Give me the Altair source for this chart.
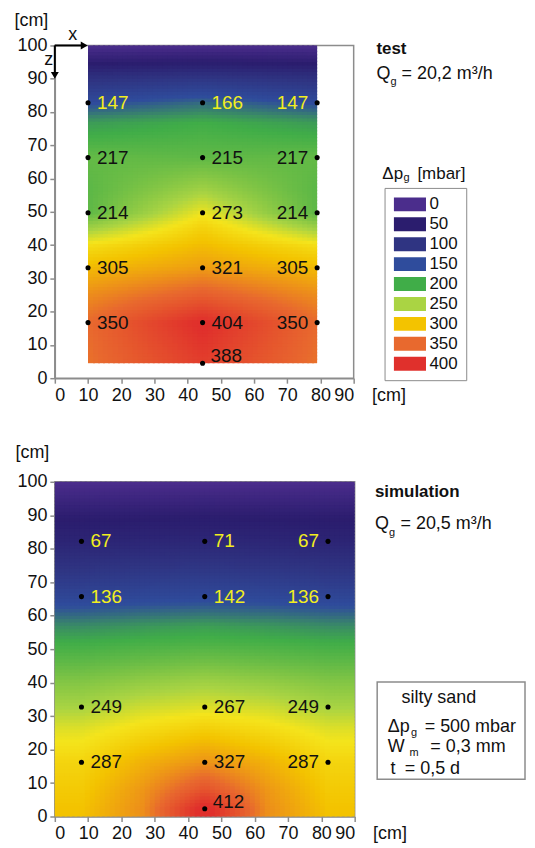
import numpy as np
import pandas as pd
import altair as alt

alt.data_transformers.disable_max_rows()

FONT = "Liberation Sans"
INK = "#111111"
FRAME = "#8c8c8c"
YELLOW = "#f2ee1e"

# ---------------- colour scale  Δp_g [mbar] ----------------
legend_values = [0, 50, 100, 150, 200, 250, 300, 350, 400]
color_domain = [0, 50, 100, 150, 200, 250, 275, 300, 350, 400]
color_range = ["#4b2d8c", "#2b1d6e", "#2f3482", "#2f4c9c", "#40ad48",
               "#aad443", "#f4e41c", "#f3c300", "#e8692e", "#e0302c"]

# ---------------- test: measured points ----------------
test_pt_x = [10, 10, 10, 10, 10, 44.5, 44.5, 44.5, 44.5, 44.5, 44.5, 79, 79, 79, 79, 79]
test_pt_y = [82.8, 66.3, 49.7, 33.2, 16.7, 82.8, 66.3, 49.7, 33.2, 16.7, 4.5, 82.8, 66.3, 49.7, 33.2, 16.7]
test_pt_val = [147, 217, 214, 305, 350, 166, 215, 273, 321, 404, 388, 147, 217, 214, 305, 350]

# test: contour field nodes
test_grid_x = [10, 44.5, 79]
test_grid_y = [100, 95, 90, 82.8, 77, 66.3, 57, 49.7, 45, 39.5, 33.2, 25, 16.7, 4.5]
test_grid_side = [0, 45, 95, 147, 190, 217, 213, 214, 245, 282, 305, 330, 350, 345]
test_grid_mid = [0, 50, 105, 166, 200, 215, 245, 273, 290, 305, 321, 360, 404, 388]

# ---------------- simulation: points ----------------
sim_pt_x = [8, 8, 8, 8, 45, 45, 45, 45, 45, 82, 82, 82, 82]
sim_pt_y = [82.2, 65.7, 32.7, 16.2, 82.2, 65.7, 32.7, 16.2, 2.3, 82.2, 65.7, 32.7, 16.2]
sim_pt_val = [67, 136, 249, 287, 71, 142, 267, 327, 412, 67, 136, 249, 287]

# simulation: field nodes
sim_grid_x = [0, 8, 26.5, 45, 63.5, 82, 90]
sim_grid_y = [100, 90, 82.2, 74, 65.7, 61, 57, 52, 46, 40, 32.7, 26, 16.2, 8, 2.3, 0]
sim_grid_side = [0, 45, 67, 100, 136, 160, 182, 200, 215, 232, 249, 268, 287, 295, 300, 300]
sim_grid_quarter = [0, 46, 70, 104, 140, 165, 188, 203, 220, 240, 262, 282, 310, 325, 330, 328]
sim_grid_mid = [0, 47, 71, 106, 142, 168, 192, 205, 224, 246, 267, 292, 327, 370, 412, 410]


def field(gx, gy, cols, x_lo, x_hi, y_lo, y_hi, nx, ny):
    gy = np.asarray(gy, float)
    order = np.argsort(gy)
    xe = np.linspace(x_lo, x_hi, nx + 1)
    ye = np.linspace(y_lo, y_hi, ny + 1)
    xc = (xe[:-1] + xe[1:]) / 2
    yc = (ye[:-1] + ye[1:]) / 2
    prof = np.array([np.interp(yc, gy[order], np.asarray(c, float)[order]) for c in cols])
    ox = (x_hi - x_lo) / nx * 0.4
    oy = (y_hi - y_lo) / ny * 0.4
    rows = []
    for j in range(ny):
        v = np.interp(xc, gx, prof[:, j])
        for i in range(nx):
            rows.append((round(xe[i], 3), round(min(xe[i + 1] + ox, x_hi), 3),
                         round(ye[j], 3), round(min(ye[j + 1] + oy, y_hi), 3),
                         round(float(v[i]), 1)))
    return pd.DataFrame(rows, columns=["x0", "x1", "y0", "y1", "v"])


test_heat = field(test_grid_x, test_grid_y,
                  [test_grid_side, test_grid_mid, test_grid_side],
                  10, 79, 4.5, 100, 46, 96)
sim_heat = field(sim_grid_x, sim_grid_y,
                 [sim_grid_side, sim_grid_side, sim_grid_quarter, sim_grid_mid,
                  sim_grid_quarter, sim_grid_side, sim_grid_side],
                 0, 90, 0, 100, 60, 100)

test_pts = pd.DataFrame({"x": test_pt_x, "y": test_pt_y, "v": test_pt_val})
sim_pts = pd.DataFrame({"x": sim_pt_x, "y": sim_pt_y, "v": sim_pt_val})

ONE = alt.Data(values=[{"k": 1}])


def note(text, x, y, size=18, weight="normal", align="left"):
    return alt.Chart(ONE).mark_text(
        font=FONT, fontSize=size, fontWeight=weight, align=align,
        baseline="middle", color=INK
    ).encode(x=alt.value(x), y=alt.value(y), text=alt.value(text))


def panel(heat, pts, yellow_pred, W, H, ytitle, xtitle_x, legend, extra):
    xs = alt.Scale(domain=[0, 90], nice=False, zero=False)
    ys = alt.Scale(domain=[0, 100], nice=False, zero=False)
    xax = alt.Axis(values=list(range(0, 91, 10)), title="[cm]", titleX=xtitle_x,
                   titleY=8, titleAlign="left", titleBaseline="top")
    yax = alt.Axis(values=list(range(0, 101, 10)), title="[cm]", titleAngle=0,
                   titleX=ytitle[0], titleY=ytitle[1], titleAlign="center",
                   titleBaseline="middle")

    hm = alt.Chart(heat).mark_rect().encode(
        x=alt.X("x0:Q", scale=xs, axis=xax),
        x2="x1",
        y=alt.Y("y0:Q", scale=ys, axis=yax),
        y2="y1",
        color=alt.Color("v:Q", scale=alt.Scale(domain=color_domain, range=color_range,
                                               interpolate="rgb", clamp=True),
                        legend=legend),
    )
    px = alt.X("x:Q", scale=xs, axis=xax)
    py = alt.Y("y:Q", scale=ys, axis=yax)
    dots = alt.Chart(pts).mark_circle(size=26, color="#000000", opacity=1).encode(x=px, y=py)
    lab_color = alt.condition(yellow_pred, alt.value(YELLOW), alt.value(INK))
    base = alt.Chart(pts).encode(x=px, y=py, text=alt.Text("v:Q", format="d"), color=lab_color)
    t_left = base.transform_filter("datum.x < 60 && datum.y > 10").mark_text(
        font=FONT, fontSize=19, align="left", baseline="middle", dx=9, dy=0)
    t_right = base.transform_filter("datum.x > 60").mark_text(
        font=FONT, fontSize=19, align="right", baseline="middle", dx=-9, dy=0)
    t_bot = base.transform_filter("datum.y < 10").mark_text(
        font=FONT, fontSize=19, align="left", baseline="middle", dx=8, dy=-7)
    layers = [hm, dots, t_left, t_right, t_bot] + extra
    return alt.layer(*layers).properties(width=W, height=H)


legend = alt.Legend(
    type="symbol", values=legend_values, title=None, orient="none",
    legendX=331, legendY=143,
    symbolType="M-2.3,-1H2.3V1H-2.3Z", symbolSize=196, symbolStrokeWidth=0,
    symbolOffset=9, symbolOpacity=1,
    labelFont=FONT, labelFontSize=17, labelColor=INK, labelOffset=11,
    rowPadding=2, strokeColor=FRAME, padding=8,
)

arrow_rule_h = alt.Chart(ONE).mark_rule(color="#000000", strokeWidth=2).encode(
    x=alt.value(0), x2=alt.value(30), y=alt.value(0))
arrow_rule_v = alt.Chart(ONE).mark_rule(color="#000000", strokeWidth=2).encode(
    x=alt.value(0), y=alt.value(0), y2=alt.value(30))
arrow_head_h = alt.Chart(ONE).mark_point(shape="triangle-right", filled=True, size=64,
                                         color="#000000", opacity=1).encode(
    x=alt.value(29.5), y=alt.value(0))
arrow_head_v = alt.Chart(ONE).mark_point(shape="triangle-down", filled=True, size=64,
                                         color="#000000", opacity=1).encode(
    x=alt.value(0), y=alt.value(30))

top_extra = [
    arrow_rule_h, arrow_rule_v, arrow_head_h, arrow_head_v,
    note("x", 13.5, -10, 18),
    note("z", -10.5, 15, 18),
    note("test", 322.8, 3.7, 17, "bold"),
    note("Q", 322.8, 28.7, 18),
    note("g", 337, 37, 11),
    note("= 20,2 m\u00b3/h", 348, 28.7, 18),
    note("\u0394p", 328.8, 128.7, 17),
    note("g", 350, 133, 11),
    note("[mbar]", 364, 128.7, 17),
]

bottom_extra = [
    note("simulation", 321.3, 10.7, 17, "bold"),
    note("Q", 321.3, 42.7, 18),
    note("g", 335.5, 51, 11),
    note("= 20,5 m\u00b3/h", 347, 42.7, 18),
    alt.Chart(ONE).mark_rect(fillOpacity=0, stroke=FRAME, strokeWidth=1.5).encode(
        x=alt.value(323.6), x2=alt.value(472), y=alt.value(201), y2=alt.value(298.7)),
    note("silty sand", 348, 217, 18),
    note("\u0394p", 334.3, 245.7, 18),
    note("g", 357.5, 252.5, 11),
    note("= 500 mbar", 371.3, 245.7, 18),
    note("W", 334.3, 266.5, 18),
    note("m", 356, 272, 11),
    note("= 0,3 mm", 377, 266.5, 18),
    note("t", 337, 288.5, 18),
    note("= 0,5 d", 351.3, 288.5, 18),
]

top = panel(test_heat, test_pts, "datum.y > 75", 300, 334, (-24, -25.5), 318, legend, top_extra)
bottom = panel(sim_heat, sim_pts, "datum.y > 60", 301, 336, (-23, -29.3), 319, None, bottom_extra)

chart = alt.vconcat(top, bottom, spacing=37).resolve_scale(color="independent").properties(
    padding={"left": 5, "top": 0, "right": 0, "bottom": 0}
).configure_view(
    stroke=FRAME, strokeWidth=1.5
).configure_axis(
    domainColor=FRAME, domainWidth=1.5, tickColor=FRAME, tickWidth=1.5, tickSize=5,
    labelFont=FONT, labelFontSize=18, labelColor=INK, labelPadding=3,
    titleFont=FONT, titleFontSize=18, titleFontWeight="normal", titleColor=INK,
    grid=False,
)

chart.save("out.html", embed_options={"renderer": "svg", "actions": False})
